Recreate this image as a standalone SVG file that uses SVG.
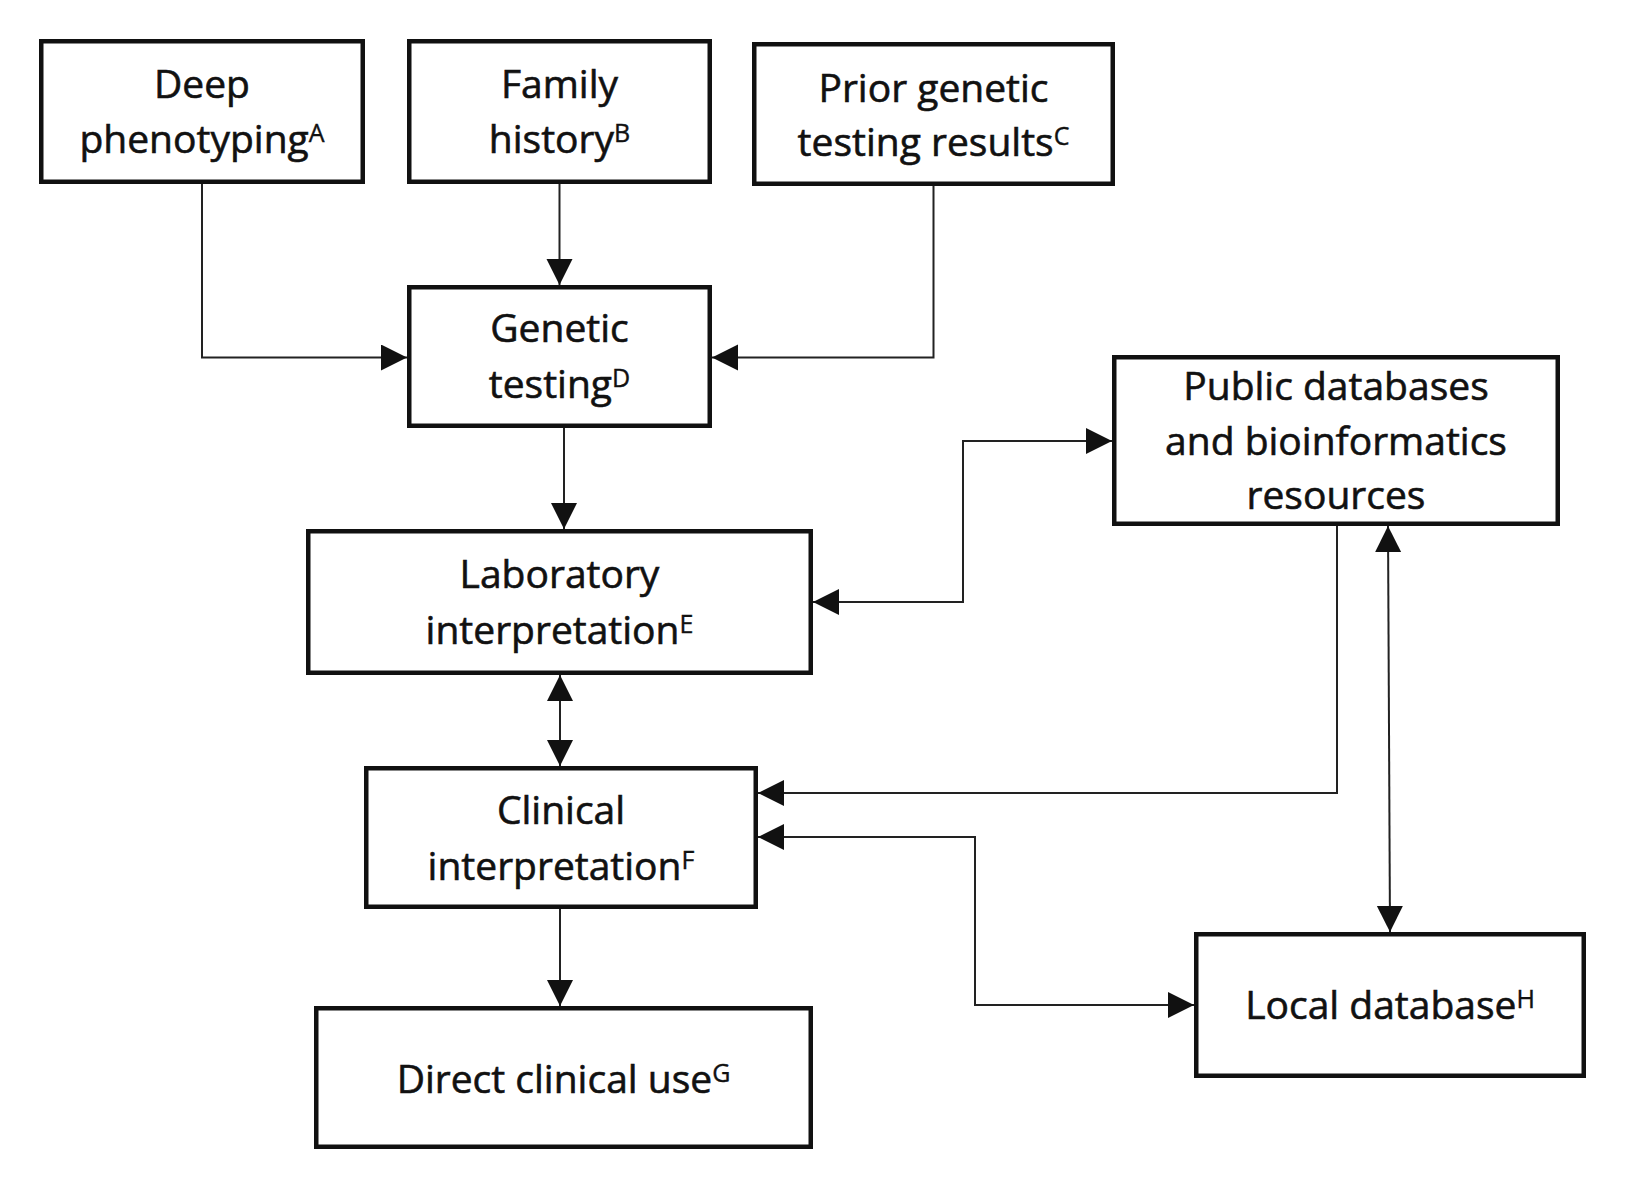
<svg xmlns="http://www.w3.org/2000/svg" width="1628" height="1183" viewBox="0 0 1628 1183">
<style>
.box{fill:#fff;stroke:#111;stroke-width:4.5}
.lbl{font-family:"Open Sans","Liberation Sans",sans-serif;font-size:39px;fill:#111;stroke:#111;stroke-width:0.6;text-anchor:middle}
.sup{font-size:25px;stroke-width:0.4}
.con{fill:none;stroke:#222;stroke-width:2}
</style>
<defs>
<marker id="ah" markerUnits="userSpaceOnUse" markerWidth="28" markerHeight="28" refX="26" refY="13" orient="auto-start-reverse">
<path d="M0,0 L26,13 L0,26 z" fill="#111"/>
</marker>
</defs>
<rect width="1628" height="1183" fill="#fff"/>
<g id="connectors">
<path class="con" d="M202,184 V357.5 H407" marker-end="url(#ah)"/>
<path class="con" d="M559.5,184 V285" marker-end="url(#ah)"/>
<path class="con" d="M933.5,186 V357.5 H712" marker-end="url(#ah)"/>
<path class="con" d="M564,428 V529" marker-end="url(#ah)"/>
<path class="con" d="M813,602 H963 V441 H1112" marker-start="url(#ah)" marker-end="url(#ah)"/>
<path class="con" d="M560,675 V766" marker-start="url(#ah)" marker-end="url(#ah)"/>
<path class="con" d="M1337,526 V793 H758" marker-end="url(#ah)"/>
<path class="con" d="M758,837 H975 V1005 H1194" marker-start="url(#ah)" marker-end="url(#ah)"/>
<path class="con" d="M1388,526 L1390,932" marker-start="url(#ah)" marker-end="url(#ah)"/>
<path class="con" d="M560,909 V1006" marker-end="url(#ah)"/>
</g>
<g id="deep">
<rect class="box" x="41.25" y="41.25" width="321.5" height="140.5"/>
<text class="lbl" x="202" y="98">Deep</text>
<text class="lbl" x="202" y="153">phenotyping<tspan class="sup" dy="-11">A</tspan></text>
</g>
<g id="family">
<rect class="box" x="409.25" y="41.25" width="300.5" height="140.5"/>
<text class="lbl" x="559.5" y="98">Family</text>
<text class="lbl" x="559.5" y="153">history<tspan class="sup" dy="-11">B</tspan></text>
</g>
<g id="prior">
<rect class="box" x="754.25" y="44.25" width="358.5" height="139.5"/>
<text class="lbl" x="933.5" y="102">Prior genetic</text>
<text class="lbl" x="933.5" y="156">testing results<tspan class="sup" dy="-11">C</tspan></text>
</g>
<g id="genetic">
<rect class="box" x="409.25" y="287.25" width="300.5" height="138.5"/>
<text class="lbl" x="559.5" y="342">Genetic</text>
<text class="lbl" x="559.5" y="398">testing<tspan class="sup" dy="-11">D</tspan></text>
</g>
<g id="lab">
<rect class="box" x="308.25" y="531.25" width="502.5" height="141.5"/>
<text class="lbl" x="559.5" y="588">Laboratory</text>
<text class="lbl" x="559.5" y="644">interpretation<tspan class="sup" dy="-11">E</tspan></text>
</g>
<g id="clinical">
<rect class="box" x="366.25" y="768.25" width="389.5" height="138.5"/>
<text class="lbl" x="561" y="824">Clinical</text>
<text class="lbl" x="561" y="880">interpretation<tspan class="sup" dy="-11">F</tspan></text>
</g>
<g id="direct">
<rect class="box" x="316.25" y="1008.25" width="494.5" height="138.5"/>
<text class="lbl" x="563.5" y="1093">Direct clinical use<tspan class="sup" dy="-11">G</tspan></text>
</g>
<g id="public">
<rect class="box" x="1114.25" y="357.25" width="443.5" height="166.5"/>
<text class="lbl" x="1336" y="400">Public databases</text>
<text class="lbl" x="1336" y="455">and bioinformatics</text>
<text class="lbl" x="1336" y="509">resources</text>
</g>
<g id="local">
<rect class="box" x="1196.25" y="934.25" width="387.5" height="141.5"/>
<text class="lbl" x="1390" y="1019">Local database<tspan class="sup" dy="-11">H</tspan></text>
</g>
</svg>
